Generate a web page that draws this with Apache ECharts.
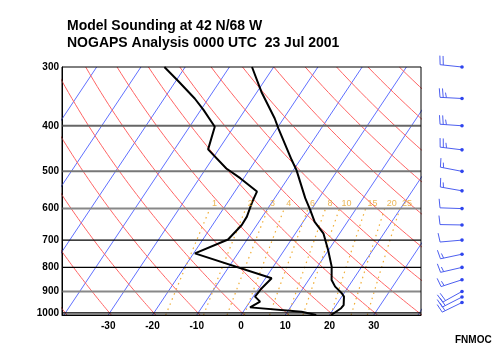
<!DOCTYPE html>
<html><head><meta charset="utf-8">
<script src="https://cdn.jsdelivr.net/npm/echarts@6/dist/echarts.min.js"></script>
<style>html,body{margin:0;padding:0;background:#fff}#c{width:500px;height:350px}</style>
</head><body><div id="c"></div>
<script>
// ---------- data ----------
const titleLines = ['Model Sounding at 42 N/68 W', 'NOGAPS Analysis 0000 UTC  23 Jul 2001'];
const creditText = 'FNMOC';
const pressureTicks = [300, 400, 500, 600, 700, 800, 900, 1000];
const isobarLevels = [400, 500, 600, 700, 800, 900, 1000];
const tempTicks = [-30, -20, -10, 0, 10, 20, 30];
const isotherms = [-80, -70, -60, -50, -40, -30, -20, -10, 0, 10, 20, 30, 40];
const adiabatThetas = [-40, -30, -20, -10, 0, 10, 20, 30, 40, 50, 60, 70, 80, 90, 100, 110, 120, 130];
const mixingRatios = [1, 2, 3, 4, 6, 8, 10, 15, 20, 25];

const tempP = [1010, 977, 962, 923, 908, 879, 851, 797, 735, 677, 640, 604, 570, 497, 473, 405, 386, 339, 300];
const tempT = [20.4, 21.6, 21.7, 20.5, 19.5, 17.0, 15.2, 13.2, 9.9, 6.3, 2.6, -0.2, -3.1, -9.3, -11.9, -19.7, -22.0, -29.0, -34.9];

const dewP = [1010, 994, 973, 946, 923, 886, 844, 747, 698, 650, 624, 585, 575, 552, 517, 493, 449, 402, 370, 350, 322, 300];
const dewT = [17.0, 13.2, 0.9, 2.3, 0.4, 0.65, 1.4, -19.7, -14.3, -13.4, -13.5, -14.4, -14.6, -15.0, -20.8, -25.4, -32.4, -34.3, -39.4, -43.1, -49.3, -54.7];

const windP = [300, 350, 400, 450, 500, 550, 600, 650, 700, 750, 800, 850, 900, 925, 950];
const windDir = [276, 273, 274, 277, 281, 280, 272, 271, 265, 258, 257, 252, 241, 243, 244];
const windSpd = [20, 25, 25, 25, 15, 15, 10, 10, 10, 15, 15, 15, 20, 20, 20];

// ---------- geometry helpers ----------
const P_BOTTOM = 1010, P_TOP = 300, SKEW = 30.8;
const X_MIN = -40.45, X_MAX = 40.68;
const Y = p => Math.log10(p);
const skewX = (T, p) => T + SKEW * Math.log(P_BOTTOM / p);
const dryT = (thC, p) => (thC + 273.15) * Math.pow(p / 1000, 0.286) - 273.15;
const mixTd = (w, p) => { const e = w * p / (622 + w); const l = Math.log(e / 6.112); return 243.5 * l / (17.67 - l); };
const pRange = (a, b, step) => { const r = []; for (let p = a; p >= b; p -= step) r.push(p); if (r[r.length - 1] !== b) r.push(b); return r; };

const FONT = 'Liberation Sans, Arial, Helvetica, sans-serif';
const isobarStyle = { 400: ['#666', 2], 500: ['#777', 2], 600: ['#888', 2], 700: ['#000', 1.2], 800: ['#000', 1.2], 900: ['#888', 2], 1000: ['#000', 1.2] };

const series = [];
const baseLine = { type: 'line', symbol: 'none', silent: true, animation: false, xAxisIndex: 0, yAxisIndex: 0, clip: true };

isotherms.forEach(T => series.push(Object.assign({}, baseLine, {
  data: [P_BOTTOM, P_TOP].map(p => [skewX(T, p), Y(p)]),
  lineStyle: { color: '#6070ff', width: 1 }
})));
adiabatThetas.forEach(th => series.push(Object.assign({}, baseLine, {
  data: pRange(P_BOTTOM, P_TOP, 10).map(p => [skewX(dryT(th, p), p), Y(p)]),
  lineStyle: { color: '#ff6464', width: 1 }
})));
mixingRatios.forEach(w => series.push(Object.assign({}, baseLine, {
  data: pRange(P_BOTTOM, 600, 10).map(p => [skewX(mixTd(w, p), p), Y(p)]),
  lineStyle: { color: '#f0ad35', width: 1.2, type: [1.5, 4] }
})));
isobarLevels.forEach(p => series.push(Object.assign({}, baseLine, {
  data: [[X_MIN, Y(p)], [X_MAX, Y(p)]],
  lineStyle: { color: isobarStyle[p][0], width: isobarStyle[p][1] }
})));
series.push(Object.assign({}, baseLine, {
  data: tempP.map((p, i) => [skewX(tempT[i], p), Y(p)]),
  lineStyle: { color: '#000', width: 2 }, z: 5
}));
series.push(Object.assign({}, baseLine, {
  data: dewP.map((p, i) => [skewX(dewT[i], p), Y(p)]),
  lineStyle: { color: '#000', width: 2 }, z: 5
}));
series.push({
  type: 'scatter', silent: true, animation: false, symbolSize: 1, itemStyle: { color: 'rgba(0,0,0,0)' }, z: 6,
  data: mixingRatios.map(w => ({ value: [skewX(mixTd(w, 600), 600), Y(600)], name: String(w) })),
  label: { show: true, position: 'right', distance: 0, offset: [1.5, -5], formatter: '{b}', color: '#e6a22a', fontSize: 9, fontFamily: FONT }
});

// wind barbs
const BARB = '#4d5ff0';
series.push({
  type: 'custom', xAxisIndex: 1, yAxisIndex: 1, silent: true, animation: false, clip: false,
  data: windP.map((p, i) => [0, Y(p), windDir[i], windSpd[i]]),
  renderItem: (params, api) => {
    const pt = api.coord([api.value(0), api.value(1)]);
    const d = api.value(2) * Math.PI / 180, spd = api.value(3);
    const sx = Math.sin(d), sy = -Math.cos(d);
    const L = 22;
    const tip = [pt[0] + sx * L, pt[1] + sy * L];
    const fx = -sy, fy = sx;
    const ch = [{ type: 'line', shape: { x1: pt[0], y1: pt[1], x2: tip[0], y2: tip[1] }, style: { stroke: BARB, lineWidth: 1 } }];
    let rem = Math.round(spd / 5) * 5, pos = 0;
    const feather = len => {
      const bx = tip[0] - sx * pos, by = tip[1] - sy * pos;
      ch.push({ type: 'line', shape: { x1: bx, y1: by, x2: bx + fx * len + sx * 1.2, y2: by + fy * len + sy * 1.2 }, style: { stroke: BARB, lineWidth: 1 } });
      pos += 3.2;
    };
    while (rem >= 10) { feather(9); rem -= 10; }
    if (rem >= 5) feather(5);
    ch.push({ type: 'circle', shape: { cx: pt[0], cy: pt[1], r: 1.8 }, style: { fill: '#2f45ee' } });
    return { type: 'group', children: ch };
  }
});

const chart = echarts.init(document.getElementById('c'), null, { renderer: 'canvas' });
chart.setOption({
  animation: false,
  backgroundColor: '#fff',
  title: {
    text: titleLines.join('\n'), left: 62, top: 13,
    textStyle: { fontSize: 14, fontWeight: 'bold', fontFamily: FONT, color: '#000', lineHeight: 16.5 }
  },
  graphic: [{ type: 'text', left: 455, top: 335, style: { text: creditText, font: 'bold 10px ' + FONT, fill: '#000' } }],
  grid: [
    { left: 62, top: 67, width: 359, height: 248, show: true, borderColor: '#000', borderWidth: 1, backgroundColor: 'transparent', z: 10 },
    { left: 462, top: 67, width: 10, height: 248 }
  ],
  xAxis: [
    { type: 'value', gridIndex: 0, min: X_MIN, max: X_MAX, splitLine: { show: false }, axisTick: { show: false },
      axisLine: { show: true, onZero: false, lineStyle: { color: '#000', width: 1 } },
      axisLabel: { customValues: tempTicks, margin: 6, color: '#000', fontSize: 10, fontWeight: 'bold', fontFamily: FONT, formatter: v => String(Math.round(v)) } },
    { type: 'value', gridIndex: 1, min: 0, max: 1, show: false }
  ],
  yAxis: [
    { type: 'value', gridIndex: 0, inverse: true, min: Y(P_TOP), max: Y(P_BOTTOM), splitLine: { show: false }, axisTick: { show: false },
      axisLine: { show: true, onZero: false, lineStyle: { color: '#000', width: 1 } },
      axisLabel: { customValues: pressureTicks.map(Y), margin: 3, color: '#000', fontSize: 10, fontWeight: 'bold', fontFamily: FONT, formatter: v => String(Math.round(Math.pow(10, v))) } },
    { type: 'value', gridIndex: 1, inverse: true, min: Y(P_TOP), max: Y(P_BOTTOM), show: false }
  ],
  series
});
</script></body></html>
